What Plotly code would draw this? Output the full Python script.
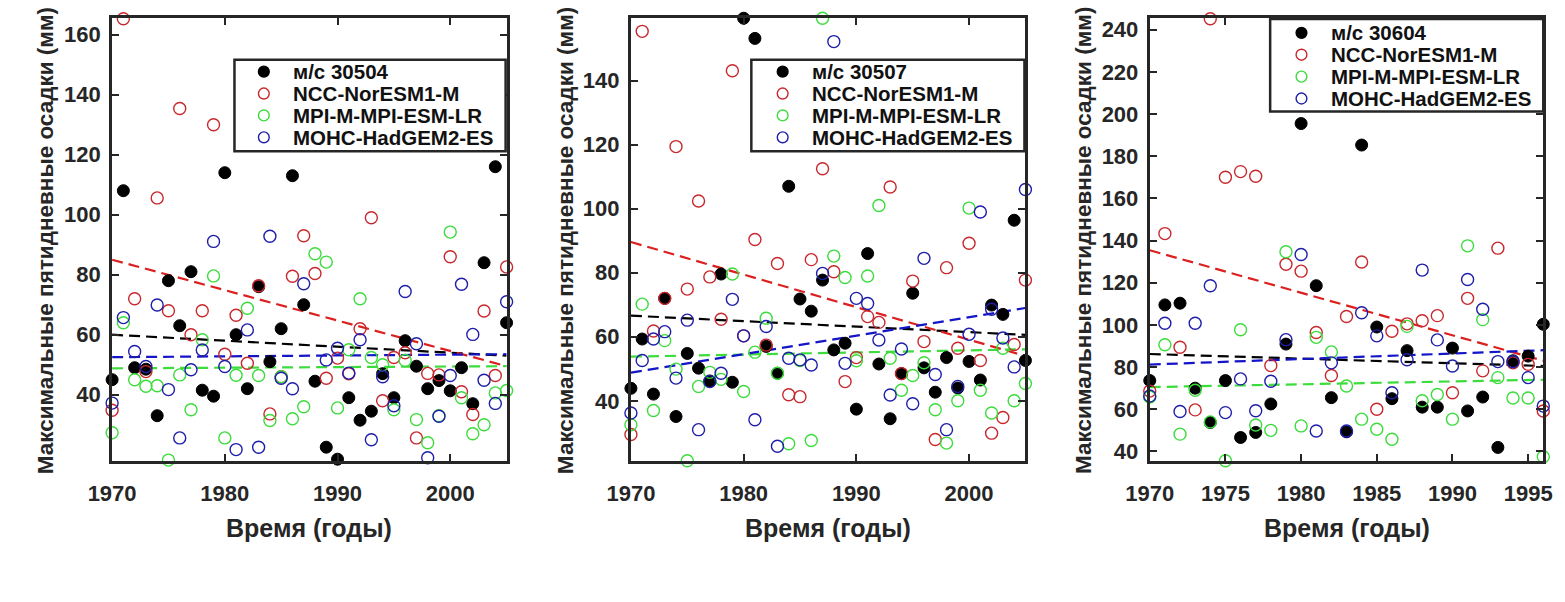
import plotly.graph_objects as go

# ---------------- data ----------------
years_a = list(range(1970, 2006))   # panels 1 and 2
years_b = list(range(1970, 1997))   # panel 3

station_names = ["м/с 30504", "м/с 30507", "м/с 30604"]
model_names = ["NCC-NorESM1-M", "MPI-M-MPI-ESM-LR", "MOHC-HadGEM2-ES"]

# Panel 1: station 30504
obs_30504 = [45, 108, 49, 48.5, 33, 78, 63, 81, 41.5, 39.5, 114, 60, 42, 76, 51, 62, 113, 70,
             44.5, 22.5, 18.5, 39, 31.5, 34.5, 47, 39, 58, 49.5, 42, 44.7, 41.3, 49, 37, 84, 116, 64]
nor_30504 = [34.8, 165.3, 72, 47.7, 105.6, 68, 135.4, 60, 68, 130, 53.5, 66.5, 50.5, 76.3, 33.6, 46,
             79.5, 93, 80.4, 45.5, 52.2, 47, 62, 99, 38, 52.4, 54, 25.6, 47.1, 46.6, 86, 41, 33.4,
             67.9, 46.4, 82.6]
mpi_30504 = [27.3, 64, 45, 42.8, 43, 18.2, 46.6, 35, 58.3, 79.6, 25.6, 46.5, 68.8, 46.4, 31.4, 46,
             32, 36, 87, 84.2, 35.6, 55, 72, 52.4, 50, 35, 51.4, 31.7, 24, 33, 94.2, 39, 27, 30,
             40.6, 41.4]
had_30504 = [37.2, 65.7, 54.4, 49.4, 69.9, 41.7, 25.6, 48.3, 54.9, 91.1, 49.4, 21.7, 61.6, 22.5,
             92.8, 45.5, 42, 77, None, 51.6, 55.5, 47.2, 58.3, 25, 46, 36.3, 74.4, 57, 19, 32.8,
             46.4, 76.8, 60.1, 44.8, 37.1, 71]

# Panel 2: station 30507
obs_30507 = [43.9, 59.3, 42.1, 72, 35.1, 54.8, 50.2, 46.2, 79.6, 45.8, 159.5, 153.2, 57, 48.6, 107,
             71.8, 68, 77.7, 55.9, 58, 37.4, 86, 51.5, 34.4, 48.5, 73.6, 50.3, 42.7, 53.5, 44, 52.3,
             46.5, 69.9, 67, 96.4, 52.6]
nor_30507 = [29.5, 155.4, 61.8, 72, 119.4, 74.9, 102.4, 78.7, 65.5, 143.1, 60.3, 90.4, 57.4, 82.9,
             41.9, 41.3, 84.1, 112.5, 80.3, 46, 53.5, 66.3, 64.5, 106.8, 48.5, 77.4, 58.5, 27.9,
             81.6, 56.4, 89.2, 52.6, 29.9, 34.8, 57.6, 77.7]
mpi_30507 = [32.5, 70.2, 37, 58.8, 49.9, 21.3, 44.5, 48.9, 46.7, 79.6, 42.9, 55.2, 65.8, 48.6, 26.6,
             52.6, 27.6, 159.5, 85.2, 78.5, 52.5, 79, 101, 53.3, 43.3, 47.9, 51.9, 37.2, 26.8, 40,
             100.2, 43.3, 36.2, 56.4, 40, 45.4]
had_30507 = [36.2, 52.6, 59.3, 61.6, 47.1, 65.2, 31, 46, 48.6, 71.7, 60.3, 34.1, 63.2, 25.8, 53.3,
             52.8, 51.2, 79.8, 152.2, 51.7, 72, 70.4, 59, 41.8, 56.2, 39.1, 84.5, 48.2, 31, 44.5,
             60.8, 99, 68.6, 59.6, 50.6, 106]

# Panel 3: station 30604
obs_30604 = [73.6, 109.5, 110.3, 70, 53.7, 73.6, 46.6, 49, 62.5, 90.9, 195.5, 118.6, 65.5, 49.3,
             185.3, 99, 65, 87.8, 61, 61, 89, 59.2, 65.8, 41.9, 83, 85.2, 100.3]
nor_30604 = [68.6, 143.3, 89.4, 59.7, 245.2, 170, 172.7, 170.5, 80.7, 128.8, 125.5, 96.4, 76, 104,
             129.8, 60, 97, 100.5, 102, 104.4, 67.8, 112.6, 78.2, 136.4, 82, 81.3, 59.2]
mpi_30604 = [65.8, 90.6, 48.2, 69, 54, 35.6, 97.7, 52.5, 50, 134.7, 52.1, 94.1, 87.2, 71, 55.3, 50.5,
             45.8, 99.3, 64, 67, 55.3, 137.5, 102.5, 75, 65.3, 65.3, 37.5]
had_30604 = [66.3, 100.8, 58.9, 100.8, 118.6, 58.4, 74.4, 59.3, 73.3, 93, 133.4, 49.7, 82, 49.7,
             105.8, 94.8, 67.8, 83.5, 126, 92.9, 80.5, 121.5, 107.4, 82.6, 82.5, 75, 61.5]

# Linear trend lines: values at the first and last year of each panel
trend_years = [[1970, 2005], [1970, 2005], [1970, 1996]]
trend_obs = [[60, 53], [66.6, 60.6], [86.2, 80.5]]
trend_nor = [[85, 49.5], [89.6, 54], [135.4, 83]]
trend_mpi = [[48.8, 49.5], [53.8, 56.1], [70.5, 74]]
trend_had = [[52.5, 53.5], [48.8, 69], [81.2, 88]]

# axis ranges and ticks
x_ranges = [[1970, 2005], [1970, 2005], [1970, 1996]]
y_ranges = [[18, 165.6], [21.3, 159.6], [35.6, 245.6]]
x_ticks = [[1970, 1980, 1990, 2000], [1970, 1980, 1990, 2000], [1970, 1975, 1980, 1985, 1990, 1995]]
y_ticks = [list(range(40, 161, 20)), list(range(40, 141, 20)), list(range(40, 241, 20))]

# ---------------- styling ----------------
FONT = "Liberation Sans, Arial, sans-serif"
AX = "#262626"
C_OBS = "#000000"
C_NOR = "#c8282d"
C_MPI = "#3cdc3c"
C_HAD = "#1e1eaa"
L_NOR = "#dc2020"
L_MPI = "#3cdc3c"
L_HAD = "#1414c8"
MSIZE = 12

W, H = 1565, 602
panel_px = [(90, 493), (620, 1023), (1150, 1552)]
top_px, bot_px = 18, 463
# legend boxes: (left, right, top, bottom), marker x, text x, row y's  (pixels)
legend_box = [(215, 492, 60, 152), (743, 1022, 60, 152), (1273, 1552, 19, 112)]
legend_mx = [245, 775, 1305]
legend_tx = [273, 803, 1333]
legend_rows = [[72, 94, 116, 138], [72, 94, 116, 138], [33, 55, 77, 99]]
ytitle_px = [22, 553, 1083]

panels = [
    (years_a, obs_30504, nor_30504, mpi_30504, had_30504),
    (years_a, obs_30507, nor_30507, mpi_30507, had_30507),
    (years_b, obs_30604, nor_30604, mpi_30604, had_30604),
]
trends = [trend_obs, trend_nor, trend_mpi, trend_had]

fig = go.Figure()

for i, (yrs, obs, nor, mpi, had) in enumerate(panels):
    sfx = "" if i == 0 else str(i + 1)
    xa, ya = "x" + sfx, "y" + sfx
    for tr, col in zip(trends, [C_OBS, L_NOR, L_MPI, L_HAD]):
        fig.add_trace(go.Scatter(x=trend_years[i], y=tr[i], mode="lines",
                                 line=dict(color=col, width=2.2, dash="11px,6px"),
                                 xaxis=xa, yaxis=ya, showlegend=False, hoverinfo="skip"))
    fig.add_trace(go.Scatter(x=yrs, y=obs, mode="markers", name=station_names[i],
                             marker=dict(symbol="circle", size=MSIZE, color=C_OBS,
                                         line=dict(color=C_OBS, width=1)),
                             xaxis=xa, yaxis=ya, showlegend=False, cliponaxis=False))
    for vals, nm, col in zip([nor, mpi, had], model_names, [C_NOR, C_MPI, C_HAD]):
        fig.add_trace(go.Scatter(x=yrs, y=vals, mode="markers", name=nm,
                                 marker=dict(symbol="circle-open", size=MSIZE, color=col,
                                             line=dict(color=col, width=1.4)),
                                 xaxis=xa, yaxis=ya, showlegend=False, cliponaxis=False))

layout = dict(width=W, height=H, margin=dict(l=0, r=0, t=0, b=0),
              paper_bgcolor="white", plot_bgcolor="white", showlegend=False,
              font=dict(family=FONT, color=AX))
annotations = []
shapes = []


def px(x):
    return x / W


def py(y):
    return 1 - y / H


for i in range(3):
    sfx = "" if i == 0 else str(i + 1)
    x0, x1 = panel_px[i]
    axis_common = dict(showline=True, linewidth=3, linecolor=AX, mirror="ticks",
                       ticks="inside", ticklen=7, tickwidth=2, tickcolor=AX,
                       showgrid=False, zeroline=False,
                       tickfont=dict(family=FONT, size=22, color=AX, weight="bold"))
    layout["xaxis" + sfx] = dict(axis_common, domain=[px(x0), px(x1)], range=x_ranges[i],
                                 tickvals=x_ticks[i], anchor="y" + sfx, ticklabelstandoff=11)
    layout["yaxis" + sfx] = dict(axis_common, domain=[py(bot_px), py(top_px)],
                                 range=y_ranges[i], tickvals=y_ticks[i], anchor="x" + sfx,
                                 ticklabelstandoff=4)
    annotations.append(dict(text="Максимальные пятидневные осадки (мм)", textangle=-90,
                            x=px(ytitle_px[i]), y=py(242), xref="paper", yref="paper",
                            xanchor="center", yanchor="middle", showarrow=False,
                            font=dict(family=FONT, size=22.5, color=AX, weight="bold")))
    annotations.append(dict(text="Время (годы)", x=px((x0 + x1) / 2), y=py(531),
                            xref="paper", yref="paper", xanchor="center", yanchor="middle",
                            showarrow=False,
                            font=dict(family=FONT, size=25, color=AX, weight="bold")))

    # legend box drawn with shapes and text
    bl, br, bt, bb = legend_box[i]
    shapes.append(dict(type="rect", xref="paper", yref="paper", layer="above",
                       x0=px(bl), x1=px(br), y0=py(bb), y1=py(bt),
                       line=dict(color=AX, width=2.5), fillcolor="white"))
    labels = [station_names[i]] + model_names
    colors = [C_OBS, C_NOR, C_MPI, C_HAD]
    r = 5.5
    for k, (lab, col) in enumerate(zip(labels, colors)):
        ry = legend_rows[i][k]
        mx = legend_mx[i]
        shapes.append(dict(type="circle", xref="paper", yref="paper", layer="above",
                           x0=px(mx - r), x1=px(mx + r), y0=py(ry + r), y1=py(ry - r),
                           line=dict(color=col, width=1.4),
                           fillcolor=col if k == 0 else "rgba(0,0,0,0)"))
        annotations.append(dict(text=lab, x=px(legend_tx[i]), y=py(ry), xref="paper",
                                yref="paper", xanchor="left", yanchor="middle",
                                showarrow=False,
                                font=dict(family=FONT, size=20.5, color="#111111",
                                          weight="bold")))

layout["annotations"] = annotations
layout["shapes"] = shapes
fig.update_layout(**layout)
fig.write_html("out.html")
